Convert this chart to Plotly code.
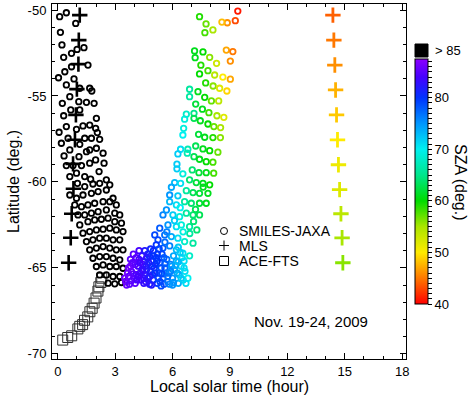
import plotly.graph_objects as go

# ---------------- data ----------------
# SMILES-JAXA, SZA > 85 (black)
smiles_dark_lst = [0.10, 0.45, 0.94, 0.14, 0.22, 0.31, 0.72, 1.01, 1.37, 0.72, 1.58, 0.04, 0.37, 0.85, 0.45,
                   0.63, 1.15, 1.67, 1.78, 0.24, 0.68, 1.10, 1.50, 1.90, 0.31, 1.15, 2.02, 1.67, 1.32, 0.45,
                   0.07, 0.98, 1.98, 2.07, 0.19, 0.54, 1.41, 1.76, 2.19, 1.15, 2.02, 1.67, 1.50, 0.63, 0.33,
                   1.11, 2.37, 1.98, 1.67, 2.42, 0.45, 0.80, 1.24, 0.63, 0.98, 1.41, 1.72, 2.16, 2.54, 1.03,
                   1.41, 1.84, 2.19, 2.72,
                   0.63, 0.98, 1.32, 1.76, 2.11, 2.54, 2.89,
                   0.89, 1.24, 1.58, 1.93, 2.37, 2.72, 3.06,
                   1.06, 1.41, 1.76, 2.11, 2.54, 2.98, 3.24,
                   1.15, 1.58, 1.93, 2.28, 2.63, 2.98, 3.33,
                   1.32, 1.67, 2.02, 2.37, 2.72, 3.06, 3.41,
                   1.50, 1.84, 2.19, 2.54, 2.89, 3.24,
                   1.67, 2.02, 2.37, 2.72, 3.06, 3.41,
                   1.84, 2.19, 2.54, 2.89, 3.24,
                   2.02, 2.37, 2.72, 3.06, 3.41,
                   2.19, 2.54, 2.89, 3.24,
                   2.63, 2.98, 3.33, 3.55]
smiles_dark_lat = [-50.39, -50.16, -50.78, -51.30, -52.03, -52.75, -52.52, -52.29, -52.19, -53.30, -53.20, -53.94, -53.59, -54.01, -54.36,
                   -55.04, -54.55, -54.55, -54.71, -55.43, -55.81, -55.33, -55.37, -55.43, -56.15, -55.81, -56.30, -56.69, -56.74, -56.78,
                   -57.11, -56.94, -56.88, -57.13, -57.75, -57.46, -57.46, -57.46, -57.52, -57.81, -58.04, -58.14, -58.24, -58.14, -58.49,
                   -58.53, -58.33, -58.72, -58.91, -58.91, -59.05, -59.05, -59.05, -59.69, -59.49, -59.69, -59.84, -59.40, -59.88, -60.08,
                   -60.27, -60.12, -60.08, -60.17,
                   -60.76, -60.95, -60.76, -60.66, -60.56, -60.47, -60.95,
                   -61.34, -61.44, -61.34, -61.24, -61.15, -61.15, -61.34,
                   -61.92, -61.92, -61.82, -61.73, -61.63, -61.82, -61.92,
                   -62.50, -62.31, -62.21, -62.17, -62.11, -62.31, -62.40,
                   -62.98, -62.89, -62.79, -62.75, -62.69, -62.79, -62.89,
                   -63.47, -63.37, -63.27, -63.27, -63.37, -63.37,
                   -63.95, -63.85, -63.76, -63.85, -63.95, -63.95,
                   -64.44, -64.34, -64.34, -64.44, -64.53,
                   -64.92, -64.83, -64.92, -64.92, -65.02,
                   -65.41, -65.41, -65.50, -65.50,
                   -65.89, -65.93, -65.85, -65.80]

# SMILES-JAXA, coloured by SZA
smiles_lst = [9.41, 9.28, 8.86, 8.58, 7.41, 7.75, 8.11, 7.69, 8.81, 9.15, 9.02, 7.15, 7.59, 7.18, 7.94, 8.30,
              7.48, 7.85, 7.41, 8.20, 8.63, 9.02, 7.73, 8.12, 8.46, 8.84, 6.89, 6.89, 7.33, 7.68, 8.03, 8.41,
              7.21, 7.56, 7.90, 8.32, 8.68, 6.72, 6.63, 7.12, 7.12, 7.45, 7.85, 8.16, 8.51, 6.58, 6.54, 7.36,
              7.68, 8.11, 8.50, 6.42, 6.28, 6.80, 6.77, 7.21, 7.12, 7.59, 7.94, 8.37, 7.41, 7.76, 8.11, 6.23,
              6.23, 6.54, 7.03, 7.38, 7.76, 8.15, 6.89, 7.24, 7.59, 7.94, 6.11, 6.42, 5.94, 5.85, 6.28, 6.72,
              7.07, 7.41, 7.85, 5.85, 6.20, 6.63, 6.98, 7.41, 7.76, 5.50, 5.68, 6.02, 6.37, 6.72, 7.07, 7.41,
              5.33, 5.76, 6.20, 6.46, 6.89, 7.27, 5.07, 5.24, 5.59, 5.94, 6.28, 6.63, 7.07, 5.15, 5.50, 5.85,
              6.20, 6.54, 6.89, 4.80, 4.54,
              3.55, 3.70, 3.85, 3.90, 3.95, 4.05, 4.10, 4.20, 4.25, 4.35, 4.40, 3.60, 3.75, 4.00, 3.80,
              4.50, 4.55, 4.60, 4.70, 4.80, 4.85, 4.90, 5.00, 5.05, 5.15, 5.20, 5.30, 5.35, 5.45, 5.50,
              5.55, 5.60, 5.70,
              5.75, 5.80, 5.90, 6.00, 6.10, 6.20, 6.30, 6.35, 6.45, 6.55, 6.65, 6.80, 6.50, 4.70, 5.00,
              3.65, 3.85, 4.15, 4.30, 4.45, 4.50, 4.65, 4.75, 4.95, 5.10, 5.25, 5.40, 5.55, 5.65, 5.85,
              5.95, 6.05, 6.25, 6.40, 6.60, 6.70, 6.30, 5.00, 5.30, 5.60, 4.25, 4.10, 4.90, 5.40, 6.00,
              6.90, 7.10, 7.20, 6.55, 6.10, 5.70, 6.40, 7.60,
              3.50, 3.70, 3.80, 3.95, 4.05, 4.20, 4.30, 4.45, 4.60, 4.65, 4.80, 4.95, 5.10, 5.20,
              5.35, 5.45, 5.60, 5.75, 5.90, 6.05, 6.15, 6.30, 6.45, 6.60, 4.40, 4.55, 4.85, 5.20]
smiles_lat = [-50.06, -50.62, -50.74, -50.70, -50.39, -50.81, -51.16, -51.32, -52.33, -52.42, -52.97, -52.38, -52.44, -52.77, -52.75, -53.10,
              -53.21, -53.53, -53.72, -53.78, -53.90, -54.02, -54.24, -54.42, -54.55, -54.71, -54.61, -55.04, -54.75, -55.08, -55.29, -55.29,
              -55.47, -55.77, -55.97, -56.15, -56.24, -56.06, -56.35, -56.01, -56.30, -56.44, -56.63, -56.78, -56.84, -56.88, -57.27, -57.23,
              -57.40, -57.42, -57.42, -58.10, -58.37, -58.10, -58.33, -57.91, -58.53, -58.08, -58.18, -58.27, -58.68, -58.82, -58.85, -58.97,
              -59.24, -59.53, -59.30, -59.46, -59.46, -59.49, -59.88, -60.04, -60.08, -60.17, -60.04, -60.08, -60.31, -60.76, -60.81, -60.51,
              -60.62, -60.66, -60.66, -61.15, -61.34, -61.15, -61.24, -61.24, -61.24, -61.92, -61.63, -61.92, -62.02, -61.82, -61.92, -61.92,
              -62.69, -62.50, -62.60, -62.50, -62.60, -62.79, -63.08, -63.37, -63.08, -63.18, -63.27, -63.47, -63.56, -63.66, -63.85, -63.72,
              -63.95, -64.15, -64.30, -64.34, -64.63,
              -65.80, -65.50, -65.20, -64.70, -64.20, -65.90, -65.40, -64.90, -64.50, -65.70, -65.10, -66.00, -65.95, -65.60, -64.90,
              -65.90, -65.40, -64.90, -65.60, -65.95, -65.20, -64.60, -65.70, -65.00, -64.40, -65.90, -65.30, -64.70, -64.20, -65.60,
              -65.95, -65.00, -64.50,
              -65.80, -65.30, -64.80, -65.60, -65.10, -64.60, -65.90, -65.40, -64.90, -65.70, -65.20, -65.60, -64.40, -64.20, -64.00,
              -65.30, -65.75, -65.70, -65.30, -64.80, -65.60, -65.10, -64.70, -65.40, -64.80, -65.60, -65.00, -64.40, -65.30, -65.95,
              -64.90, -64.30, -65.30, -64.10, -64.60, -65.90, -63.80, -64.30, -63.90, -63.50, -64.00, -64.40, -66.00, -66.05, -66.00,
              -63.00, -62.30, -61.60, -62.90, -62.25, -62.90, -61.50, -60.30,
              -65.60, -65.00, -64.50, -65.35, -64.80, -65.50, -64.70, -65.20, -65.80, -64.40, -65.50, -64.90, -65.30, -64.60,
              -65.80, -65.35, -64.75, -65.50, -65.20, -65.85, -64.85, -64.65, -65.60, -65.00, -64.30, -64.00, -63.90, -64.20]
smiles_sza = [41, 43, 46, 48, 59, 57, 55, 58, 47, 45, 46, 61, 60, 61, 56, 53,
              59, 58, 60, 54, 50, 47, 59, 56, 52, 49, 66, 66, 61, 60, 57, 54,
              62, 61, 58, 55, 52, 68, 69, 65, 63, 61, 60, 57, 55, 69, 70, 62,
              61, 59, 56, 71, 72, 67, 67, 63, 63, 61, 60, 57, 61, 60, 58, 72,
              72, 69, 64, 62, 61, 58, 64, 62, 61, 60, 73, 71, 74, 75, 72, 66,
              63, 62, 61, 73, 71, 66, 64, 62, 61, 76, 75, 72, 69, 66, 64, 63,
              78, 75, 71, 69, 66, 64, 79, 79, 77, 74, 71, 68, 66, 80, 78, 76,
              73, 71, 68, 81, 82,
              86, 85, 85, 85, 85, 85, 84, 84, 84, 84, 83, 86, 85, 85, 86,
              83, 83, 82, 82, 82, 81, 81, 81, 80, 80, 80, 79, 79, 79, 78,
              78, 78, 77,
              77, 76, 76, 75, 74, 74, 74, 73, 72, 72, 71, 70, 71, 81, 80,
              86, 85, 84, 84, 83, 83, 82, 82, 81, 80, 79, 79, 78, 77, 76,
              75, 74, 74, 72, 71, 71, 72, 80, 79, 77, 84, 85, 82, 79, 75,
              66, 64, 63, 69, 72, 76, 70, 61,
              86, 86, 85, 85, 85, 84, 84, 83, 83, 82, 82, 81, 80, 80,
              79, 79, 78, 77, 76, 75, 74, 73, 72, 71, 83, 82, 81, 80]

# MLS, SZA > 85 (black)
mls_dark_lst = [1.15, 1.10, 1.08, 1.00, 0.95, 0.90, 0.80, 0.82, 0.73, 0.68, 0.57]
mls_dark_lat = [-50.30, -51.75, -53.15, -54.60, -56.10, -57.55, -58.95, -60.40, -61.85, -63.25, -64.70]

# MLS, coloured by SZA
mls_lst = [14.38, 14.43, 14.48, 14.52, 14.57, 14.62, 14.67, 14.73, 14.80, 14.86, 14.90]
mls_lat = [-50.30, -51.75, -53.20, -54.65, -56.10, -57.55, -59.00, -60.45, -61.85, -63.25, -64.70]
mls_sza = [44, 45, 46, 47.5, 48.5, 50, 51, 52, 54, 55, 56]

# ACE-FTS
ace_lst = [0.26, 0.52, 0.73, 1.05, 1.15, 1.30, 1.40, 1.57, 1.68, 1.80, 1.90, 2.00, 2.10, 2.15, 2.25, 2.30]
ace_lat = [-69.20, -69.05, -68.95, -68.55, -68.40, -68.30, -68.05, -67.85, -67.55, -67.35, -67.05, -66.75,
           -66.35, -66.10, -65.85, -65.60]

x_ticks = [0, 3, 6, 9, 12, 15, 18]
y_ticks = [-70, -65, -60, -55, -50]
y_ticktext = ["-70", "-65", "-60", "-55", "-50"]
cb_ticks = [40, 50, 60, 70, 80]
sza_min, sza_max = 40, 87.5
legend_names = ["SMILES-JAXA", "MLS", "ACE-FTS"]

# ---------------- style ----------------
FONT = "Liberation Sans, Arial, sans-serif"
W, H = 474, 396
ML, MR, MT, MB = 52, 68, 4, 37
PW, PH = W - ML - MR, H - MT - MB


def px_x(p):
    return (p - ML) / PW


def px_y(p):
    return (H - MB - p) / PH


def frac(v):
    return (v - sza_min) / (sza_max - sza_min)


colorscale = [
    [frac(40), "rgb(255,0,0)"],
    [frac(45), "rgb(255,120,0)"],
    [frac(50), "rgb(255,235,0)"],
    [frac(55), "rgb(170,230,0)"],
    [frac(60), "rgb(0,220,0)"],
    [frac(65), "rgb(0,230,140)"],
    [frac(70), "rgb(0,240,240)"],
    [frac(75), "rgb(0,150,255)"],
    [frac(80), "rgb(0,50,255)"],
    [frac(84), "rgb(70,0,255)"],
    [frac(87.5), "rgb(140,0,255)"],
]

cb_vals = list(range(40, 88))
cb_text = [str(v) if v in cb_ticks else "" for v in cb_vals]

fig = go.Figure()

fig.add_trace(go.Scatter(
    x=ace_lst, y=ace_lat, mode="markers", name=legend_names[2], showlegend=False,
    marker=dict(symbol="square-open", size=10, color="#303030", line=dict(width=1)),
))
fig.add_trace(go.Scatter(
    x=smiles_dark_lst, y=smiles_dark_lat, mode="markers", name=legend_names[0], showlegend=False,
    marker=dict(symbol="circle-open", size=5.5, color="black", line=dict(width=1.8)),
))
fig.add_trace(go.Scatter(
    x=smiles_lst, y=smiles_lat, mode="markers", showlegend=False,
    marker=dict(symbol="circle-open", size=5.5, color=smiles_sza, colorscale=colorscale,
                cmin=sza_min, cmax=sza_max, line=dict(width=1.8),
                colorbar=dict(
                    x=px_x(415), xanchor="left", xpad=0,
                    y=px_y(181.5), yanchor="middle", ypad=0,
                    lenmode="pixels", len=245, thickness=13,
                    outlinewidth=1, outlinecolor="black",
                    tickmode="array", tickvals=cb_vals, ticktext=cb_text,
                    ticks="outside", ticklen=4, tickwidth=1, tickcolor="black",
                    tickfont=dict(family=FONT, size=13, color="black"),
                )),
))
fig.add_trace(go.Scatter(
    x=mls_dark_lst, y=mls_dark_lat, mode="markers", name=legend_names[1], showlegend=False,
    marker=dict(symbol="cross-thin-open", size=11, color="black", line=dict(width=2.6)),
))
fig.add_trace(go.Scatter(
    x=mls_lst, y=mls_lat, mode="markers", showlegend=False,
    marker=dict(symbol="cross-thin-open", size=11, color=mls_sza, colorscale=colorscale,
                cmin=sza_min, cmax=sza_max, line=dict(width=2.8)),
))

axis_common = dict(
    showline=True, linecolor="black", linewidth=1, mirror="ticks",
    ticks="inside", ticklen=6, tickwidth=1, tickcolor="black",
    showgrid=False, zeroline=False, automargin=False,
    tickfont=dict(family=FONT, size=13, color="black"),
)

# manual legend (glyphs as paper shapes, labels as text)
lx, ly = 224, [231, 245.5, 261]
shapes = [
    dict(type="circle", xref="paper", yref="paper",
         x0=px_x(lx - 3.5), x1=px_x(lx + 3.5), y0=px_y(ly[0] + 3.5), y1=px_y(ly[0] - 3.5),
         line=dict(color="black", width=1)),
    dict(type="line", xref="paper", yref="paper",
         x0=px_x(lx - 5), x1=px_x(lx + 5), y0=px_y(ly[1]), y1=px_y(ly[1]),
         line=dict(color="black", width=1)),
    dict(type="line", xref="paper", yref="paper",
         x0=px_x(lx), x1=px_x(lx), y0=px_y(ly[1] - 5), y1=px_y(ly[1] + 5),
         line=dict(color="black", width=1)),
    dict(type="rect", xref="paper", yref="paper",
         x0=px_x(lx - 4.5), x1=px_x(lx + 4.5), y0=px_y(ly[2] + 4.5), y1=px_y(ly[2] - 4.5),
         line=dict(color="black", width=1)),
    # "> 85" box above the colour bar
    dict(type="rect", xref="paper", yref="paper",
         x0=px_x(415), x1=px_x(428), y0=px_y(57), y1=px_y(44),
         fillcolor="black", line=dict(color="black", width=1)),
]

annotations = [
    dict(text=nm, xref="paper", yref="paper", x=px_x(237), y=px_y(yy),
         xanchor="left", yanchor="middle", showarrow=False,
         font=dict(family=FONT, size=14, color="black"))
    for nm, yy in zip(legend_names, ly)
] + [
    dict(text="> 85", xref="paper", yref="paper", x=px_x(433), y=px_y(50),
         xanchor="left", yanchor="middle", showarrow=False,
         font=dict(family=FONT, size=13, color="black")),
    dict(text="SZA (deg.)", xref="paper", yref="paper", x=px_x(461), y=px_y(182),
         xanchor="center", yanchor="middle", showarrow=False, textangle=90,
         font=dict(family=FONT, size=16, color="black")),
    dict(text="Nov. 19-24, 2009", xref="paper", yref="paper", x=px_x(311), y=px_y(321),
         xanchor="center", yanchor="middle", showarrow=False,
         font=dict(family=FONT, size=15, color="black")),
    dict(text="Local solar time (hour)", xref="paper", yref="paper", x=px_x(229), y=px_y(387),
         xanchor="center", yanchor="middle", showarrow=False,
         font=dict(family=FONT, size=16, color="black")),
    dict(text="Latitude (deg.)", xref="paper", yref="paper", x=px_x(13), y=px_y(182),
         xanchor="center", yanchor="middle", showarrow=False, textangle=-90,
         font=dict(family=FONT, size=16, color="black")),
]

fig.update_layout(
    width=W, height=H,
    margin=dict(l=ML, r=MR, t=MT, b=MB, autoexpand=False),
    paper_bgcolor="white", plot_bgcolor="white",
    font=dict(family=FONT, color="black"),
    showlegend=False,
    xaxis=dict(
        range=[-0.3, 18.2], tickmode="array", tickvals=x_ticks,
        minor=dict(dtick=1, tick0=0, ticks="inside", ticklen=3, tickcolor="black", showgrid=False),
        ticklabelstandoff=0,
        **axis_common,
    ),
    yaxis=dict(
        range=[-70.3, -49.65], tickmode="array", tickvals=y_ticks, ticktext=y_ticktext,
        minor=dict(dtick=1, tick0=-70, ticks="inside", ticklen=3, tickcolor="black", showgrid=False),
        ticklabelstandoff=2,
        **axis_common,
    ),
    shapes=shapes,
    annotations=annotations,
)

fig.write_html(
    "out.html",
    config={"displayModeBar": False},
    post_script="document.body.style.margin='0';document.body.style.overflow='hidden';",
)
